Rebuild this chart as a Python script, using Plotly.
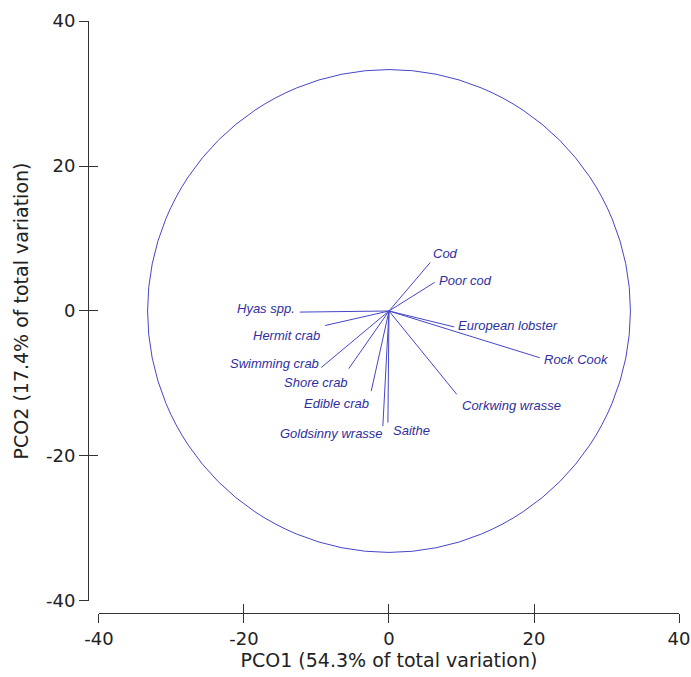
import plotly.graph_objects as go

# ---- data ----
species = ["Cod", "Poor cod", "European lobster", "Rock Cook", "Corkwing wrasse",
           "Saithe", "Goldsinny wrasse", "Edible crab", "Shore crab",
           "Swimming crab", "Hermit crab", "Hyas spp."]
pco1 = [5.7, 6.3, 9.0, 20.8, 9.35, -0.15, -0.85, -2.45, -5.55, -9.35, -8.8, -12.3]
pco2 = [6.7, 3.95, -2.2, -6.45, -11.5, -15.4, -15.9, -11.05, -7.95, -7.8, -2.0, -0.15]
circle_radius = 33.3
x_ticks = [-40, -20, 0, 20, 40]
y_ticks = [-40, -20, 0, 20, 40]
x_tick_labels = ["-40", "-20", "0", "20", "40"]
y_tick_labels = ["-40", "-20", "0", "20", "40"]
x_title = "PCO1 (54.3% of total variation)"
y_title = "PCO2 (17.4% of total variation)"

# label placement (style): anchor side and pixel offsets from the vector tip
label_anchor = ["left", "left", "left", "left", "left", "left",
                "right", "right", "right", "right", "right", "right"]
label_dx = [1, 2, 2, 2, 3, 3, 2, 0, 1, 0, -3, -3]
label_dy = [-9, -2, -1, 2, 11, 8, 7, 12, 14, -4, 10, -4]

LINE_COLOR = "#4646c8"
TEXT_COLOR = "#2f2fa0"
AXIS_COLOR = "#333333"
FONT = "DejaVu Sans, Liberation Sans, Arial, sans-serif"

# vectors from origin, separated by None
vx, vy = [], []
for a, b in zip(pco1, pco2):
    vx += [0, a, None]
    vy += [0, b, None]

fig = go.Figure()
fig.add_trace(go.Scatter(x=vx, y=vy, mode="lines",
                         line=dict(color=LINE_COLOR, width=1),
                         hoverinfo="skip", showlegend=False))
# dummy trace for the overlay axes (inner half of the crossing ticks)
fig.add_trace(go.Scatter(x=[None], y=[None], xaxis="x2", yaxis="y2",
                         showlegend=False, hoverinfo="skip"))

for name, a, b, anc, dx, dy in zip(species, pco1, pco2, label_anchor, label_dx, label_dy):
    fig.add_annotation(x=a, y=b, xref="x", yref="y", text="<i>" + name + "</i>",
                       showarrow=False, xanchor=anc, yanchor="middle",
                       xshift=dx, yshift=-dy,
                       font=dict(family="Liberation Sans, Arial, sans-serif",
                                 size=13, color=TEXT_COLOR))

fig.add_shape(type="circle", xref="x", yref="y",
              x0=-circle_radius, y0=-circle_radius, x1=circle_radius, y1=circle_radius,
              line=dict(color=LINE_COLOR, width=1))

xdom = [0.0186, 1.0]
ydom = [0.0203, 1.0]
axis_common = dict(showgrid=False, zeroline=False, showline=True, automargin=False,
                   linecolor=AXIS_COLOR, linewidth=1, tickcolor=AXIS_COLOR,
                   tickwidth=1, ticklen=9)

fig.update_layout(
    template="none",
    width=691, height=677,
    margin=dict(l=88, r=12, t=21, b=64),
    paper_bgcolor="white", plot_bgcolor="white",
    font=dict(family=FONT, color="#222222", size=18),
    xaxis=dict(range=[-40, 40], domain=xdom, anchor="free", position=0,
               tickmode="array", tickvals=x_ticks, ticktext=x_tick_labels,
               ticks="outside", ticklabeloverflow="allow",
               tickfont=dict(size=18, color="#222222"),
               title=dict(text=x_title, font=dict(size=19, color="#222222"), standoff=5),
               **axis_common),
    yaxis=dict(range=[-40, 40], domain=ydom, anchor="free", position=0,
               tickmode="array", tickvals=y_ticks, ticktext=y_tick_labels,
               ticks="outside", ticklabeloverflow="allow",
               tickfont=dict(size=18, color="#222222"),
               title=dict(text=y_title, font=dict(size=19, color="#222222"), standoff=11),
               **axis_common),
    xaxis2=dict(range=[-40, 40], domain=xdom, anchor="free", position=0,
                overlaying="x", tickmode="array", tickvals=x_ticks, ticks="inside",
                showticklabels=False, **axis_common),
    yaxis2=dict(range=[-40, 40], domain=ydom, anchor="free", position=0,
                overlaying="y", tickmode="array", tickvals=y_ticks, ticks="inside",
                showticklabels=False, **axis_common),
)

fig.write_html("out.html",
               config={"displayModeBar": False},
               post_script="document.body.style.margin='0';document.body.style.overflow='hidden';")
